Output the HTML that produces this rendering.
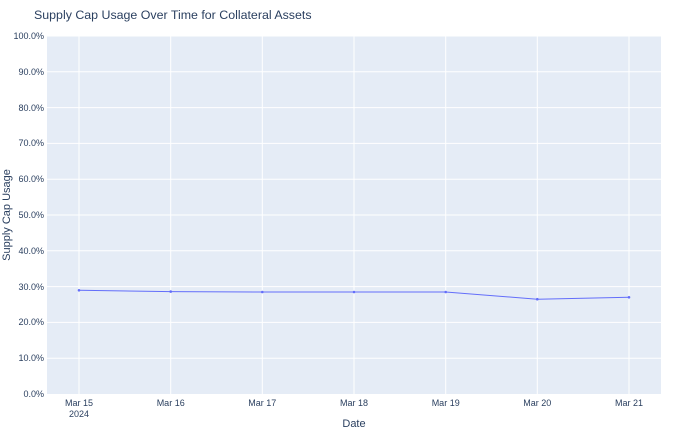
<!DOCTYPE html>
<html><head><meta charset="utf-8"><style>body{margin:0;background:#fff}svg{display:block;font-family:"Liberation Sans",sans-serif}</style></head><body>
<svg width="690" height="431" xmlns="http://www.w3.org/2000/svg">
<rect width="690" height="431" fill="#fff"/>
<rect x="47" y="36" width="614" height="358" fill="#e5ecf6"/>
<g stroke="#fff" stroke-width="1">
<line x1="79" y1="36" x2="79" y2="394"/><line x1="170.7" y1="36" x2="170.7" y2="394"/><line x1="262.3" y1="36" x2="262.3" y2="394"/><line x1="354" y1="36" x2="354" y2="394"/><line x1="445.7" y1="36" x2="445.7" y2="394"/><line x1="537.3" y1="36" x2="537.3" y2="394"/><line x1="629" y1="36" x2="629" y2="394"/>
<line x1="47" y1="36" x2="661" y2="36"/><line x1="47" y1="71.8" x2="661" y2="71.8"/><line x1="47" y1="107.6" x2="661" y2="107.6"/><line x1="47" y1="143.4" x2="661" y2="143.4"/><line x1="47" y1="179.2" x2="661" y2="179.2"/><line x1="47" y1="215" x2="661" y2="215"/><line x1="47" y1="250.8" x2="661" y2="250.8"/><line x1="47" y1="286.6" x2="661" y2="286.6"/><line x1="47" y1="322.4" x2="661" y2="322.4"/><line x1="47" y1="358.2" x2="661" y2="358.2"/>
</g>
<g font-size="9" fill="#2a3f5f" text-anchor="end">
<text x="44" y="39">100.0%</text><text x="44" y="75">90.0%</text><text x="44" y="111">80.0%</text><text x="44" y="146">70.0%</text><text x="44" y="182">60.0%</text><text x="44" y="218">50.0%</text><text x="44" y="254">40.0%</text><text x="44" y="290">30.0%</text><text x="44" y="325">20.0%</text><text x="44" y="361">10.0%</text><text x="44" y="397">0.0%</text>
</g>
<g font-size="9" fill="#2a3f5f" text-anchor="middle">
<text x="79" y="406">Mar 15</text><text x="79" y="417">2024</text><text x="170.7" y="406">Mar 16</text><text x="262.3" y="406">Mar 17</text><text x="354" y="406">Mar 18</text><text x="445.7" y="406">Mar 19</text><text x="537.3" y="406">Mar 20</text><text x="629" y="406">Mar 21</text>
</g>
<polyline fill="none" stroke="#636efa" stroke-width="1" points="79,290.3 170.7,291.6 262.3,292 354,292 445.7,292 537.3,299.2 629,297.3"/>
<g fill="#636efa"><circle cx="79" cy="290.3" r="1.3"/><circle cx="170.7" cy="291.6" r="1.3"/><circle cx="262.3" cy="292" r="1.3"/><circle cx="354" cy="292" r="1.3"/><circle cx="445.7" cy="292" r="1.3"/><circle cx="537.3" cy="299.2" r="1.3"/><circle cx="629" cy="297.3" r="1.3"/></g>
<text x="34" y="19" font-size="12.4" fill="#2a3f5f">Supply Cap Usage Over Time for Collateral Assets</text>
<text x="354" y="427" font-size="11" fill="#2a3f5f" text-anchor="middle">Date</text>
<text transform="translate(10,215) rotate(-90)" font-size="11" fill="#2a3f5f" text-anchor="middle">Supply Cap Usage</text>
</svg>
</body></html>
